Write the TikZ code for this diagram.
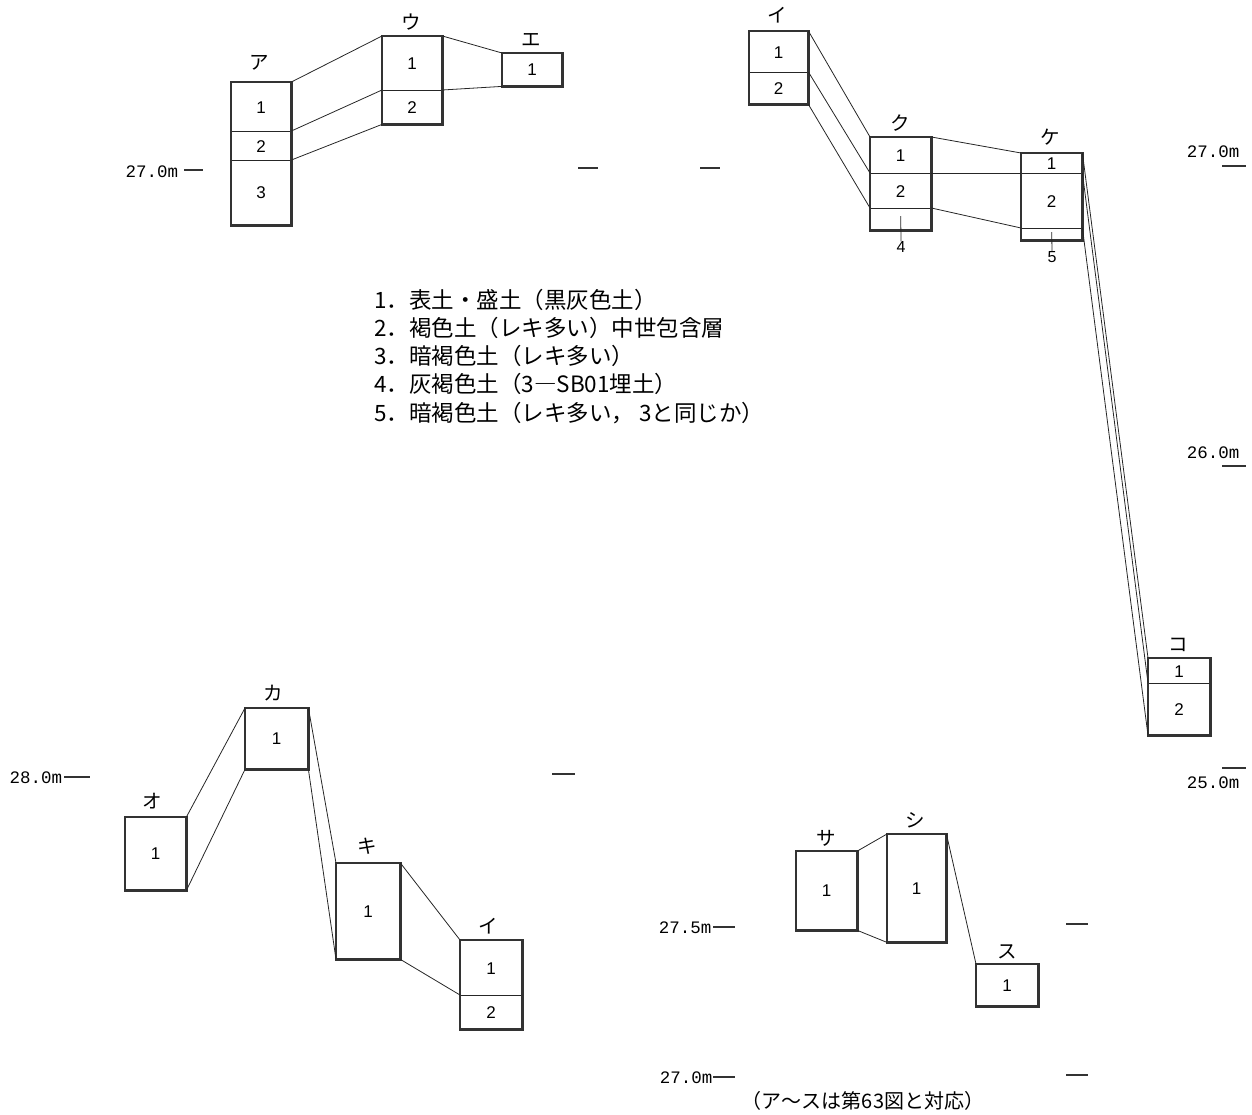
\documentclass[tikz,border=0pt]{standalone}
\usepackage{fontspec}
\newfontfamily\jp{Noto Sans CJK JP}
\newfontfamily\numf{Liberation Sans}
\newfontfamily\levf{Liberation Mono}
\newcommand\mylayer[6]{\node[lyr,minimum width=#4pt,minimum height=#5pt] (#1) at (#2,#3) {#6};}
\begin{document}
\begin{tikzpicture}[x=1pt,y=-1pt,
  frame/.style={draw=black!80, line width=2.8pt, line join=miter},
  lyr/.style={draw=black!85, line width=1.4pt, inner sep=0pt, anchor=north west, font=\numf\fontsize{17}{19}\selectfont},
  conn/.style={draw=black!85, line width=0.8pt},
  kana/.style={inner sep=0pt, font=\jp\fontsize{19.5}{21}\selectfont},
  num/.style={inner sep=0pt, font=\numf\fontsize{16}{18}\selectfont},
  lev/.style={inner sep=0pt, font=\levf\fontsize{17.5}{19}\selectfont},
  tickm/.style={draw=black!80, line width=1.2pt},
  leg/.style={inner sep=0pt, anchor=west, font=\jp\fontsize{22.5}{25}\selectfont}]
\useasboundingbox (0,0) rectangle (1252,1115);

% ---------------- top-left panel ----------------
\mylayer{a1}{231}{82}{59}{49}{1}
\mylayer{a2}{231}{131}{59}{29}{2}
\mylayer{a3}{231}{160}{59}{64}{3}
\draw[frame] (a1.north west) rectangle (a3.south east);
\node[kana] (la) at (259,63) {ア};

\mylayer{u1}{382}{36}{59}{54}{1}
\mylayer{u2}{382}{90}{59}{33}{2}
\draw[frame] (u1.north west) rectangle (u2.south east);
\node[kana] (lu) at (411,22) {ウ};

\mylayer{e1}{502}{53}{59}{32}{1}
\draw[frame] (e1.north west) rectangle (e1.south east);
\node[kana] (le) at (531,40) {エ};

\draw[conn] (a1.north east) -- (u1.north west);
\draw[conn] (a2.north east) -- (u2.north west);
\draw[conn] (a3.north east) -- (u2.south west);
\draw[conn] (u1.north east) -- (e1.north west);
\draw[conn] (u2.north east) -- (e1.south west);

\node[lev] (lv1) at (152,172) {27.0m};
\draw[tickm] (184,170) -- (203,170);
\draw[tickm] (578,168) -- (598,168);

% ---------------- top-right panel ----------------
\mylayer{i1}{749}{31}{58}{41}{1}
\mylayer{i2}{749}{72}{58}{31}{2}
\draw[frame] (i1.north west) rectangle (i2.south east);
\node[kana] (li) at (777,15) {イ};

\mylayer{k1}{870}{137}{60}{36}{1}
\mylayer{k2}{870}{173}{60}{35}{2}
\mylayer{k3}{870}{208}{60}{21}{}
\draw[frame] (k1.north west) rectangle (k3.south east);
\node[kana] (lk) at (900,123) {ク};
\node[num] (n4) at (901,247) {4};
\draw[conn] ([yshift=3pt]k3.center) -- (n4.north);

\mylayer{ke1}{1021}{153}{60}{20}{1}
\mylayer{ke2}{1021}{173}{60}{55}{2}
\mylayer{ke3}{1021}{228}{60}{11}{}
\draw[frame] (ke1.north west) rectangle (ke3.south east);
\node[kana] (lke) at (1050,137) {ケ};
\node[num] (n5) at (1052,257) {5};
\draw[conn] ([yshift=2pt]ke3.center) -- (n5.north);

\mylayer{ko1}{1148}{658}{61}{25}{1}
\mylayer{ko2}{1148}{683}{61}{51}{2}
\draw[frame] (ko1.north west) rectangle (ko2.south east);
\node[kana] (lko) at (1178,645) {コ};

\draw[conn] (i1.north east) -- (k1.north west);
\draw[conn] (i2.north east) -- (k2.north west);
\draw[conn] (i2.south east) -- (k3.north west);
\draw[conn] (k1.north east) -- (ke1.north west);
\draw[conn] (k2.north east) -- (ke2.north west);
\draw[conn] (k3.north east) -- (ke3.north west);
\draw[conn] (ke1.north east) -- (ko1.north west);
\draw[conn] (ke2.north east) -- (ko2.north west);
\draw[conn] (ke3.north east) -- (ko2.south west);

\draw[tickm] (700,168) -- (720,168);
\node[lev] (lv2) at (1213,152) {27.0m};
\draw[tickm] (1222,166) -- (1246,166);
\node[lev] (lv3) at (1213,453) {26.0m};
\draw[tickm] (1222,466) -- (1246,466);
\node[lev] (lv4) at (1213,783) {25.0m};
\draw[tickm] (1222,768) -- (1246,768);

% ---------------- legend ----------------
\node[leg] (g1) at (374,300) {1．表土・盛土（黒灰色土）};
\node[leg] (g2) at (374,328) {2．褐色土（レキ多い）中世包含層};
\node[leg] (g3) at (374,356) {3．暗褐色土（レキ多い）};
\node[leg] (g4) at (374,384) {4．灰褐色土（3―SB01埋土）};
\node[leg] (g5) at (374,413) {5．暗褐色土（レキ多い，\ 3と同じか）};

% ---------------- bottom-left panel ----------------
\mylayer{o1}{125}{817}{60}{72}{1}
\draw[frame] (o1.north west) rectangle (o1.south east);
\node[kana] (lo) at (152,801) {オ};

\mylayer{ka1}{245}{708}{62}{60}{1}
\draw[frame] (ka1.north west) rectangle (ka1.south east);
\node[kana] (lka) at (273,693) {カ};

\mylayer{ki1}{336}{863}{63}{95}{1}
\draw[frame] (ki1.north west) rectangle (ki1.south east);
\node[kana] (lki) at (367,846) {キ};

\mylayer{bi1}{460}{940}{61}{55}{1}
\mylayer{bi2}{460}{995}{61}{33}{2}
\draw[frame] (bi1.north west) rectangle (bi2.south east);
\node[kana] (lbi) at (488,926) {イ};

\draw[conn] (o1.north east) -- (ka1.north west);
\draw[conn] (o1.south east) -- (ka1.south west);
\draw[conn] (ka1.north east) -- (ki1.north west);
\draw[conn] (ka1.south east) -- (ki1.south west);
\draw[conn] (ki1.north east) -- (bi1.north west);
\draw[conn] (ki1.south east) -- (bi2.north west);

\node[lev] (lv5) at (36,778) {28.0m};
\draw[tickm] (64,777) -- (90,777);
\draw[tickm] (552,774) -- (575,774);

% ---------------- bottom-right panel ----------------
\mylayer{sa1}{796}{851}{60}{78}{1}
\draw[frame] (sa1.north west) rectangle (sa1.south east);
\node[kana] (lsa) at (826,838) {サ};

\mylayer{si1}{887}{834}{58}{107}{1}
\draw[frame] (si1.north west) rectangle (si1.south east);
\node[kana] (lsi) at (915,820) {シ};

\mylayer{su1}{976}{964}{61}{41}{1}
\draw[frame] (su1.north west) rectangle (su1.south east);
\node[kana] (lsu) at (1007,952) {ス};

\draw[conn] (sa1.north east) -- (si1.north west);
\draw[conn] (sa1.south east) -- (si1.south west);
\draw[conn] (si1.north east) -- (su1.north west);

\node[lev] (lv6) at (685,928) {27.5m};
\draw[tickm] (713,927) -- (735,927);
\draw[tickm] (1066,924) -- (1088,924);
\node[lev] (lv7) at (686,1078) {27.0m};
\draw[tickm] (713,1077) -- (735,1077);
\draw[tickm] (1066,1075) -- (1088,1075);

\node[inner sep=0pt, font=\jp\fontsize{20}{22}\selectfont] (cap) at (863,1101) {（ア〜スは第63図と対応）};
\end{tikzpicture}
\end{document}
